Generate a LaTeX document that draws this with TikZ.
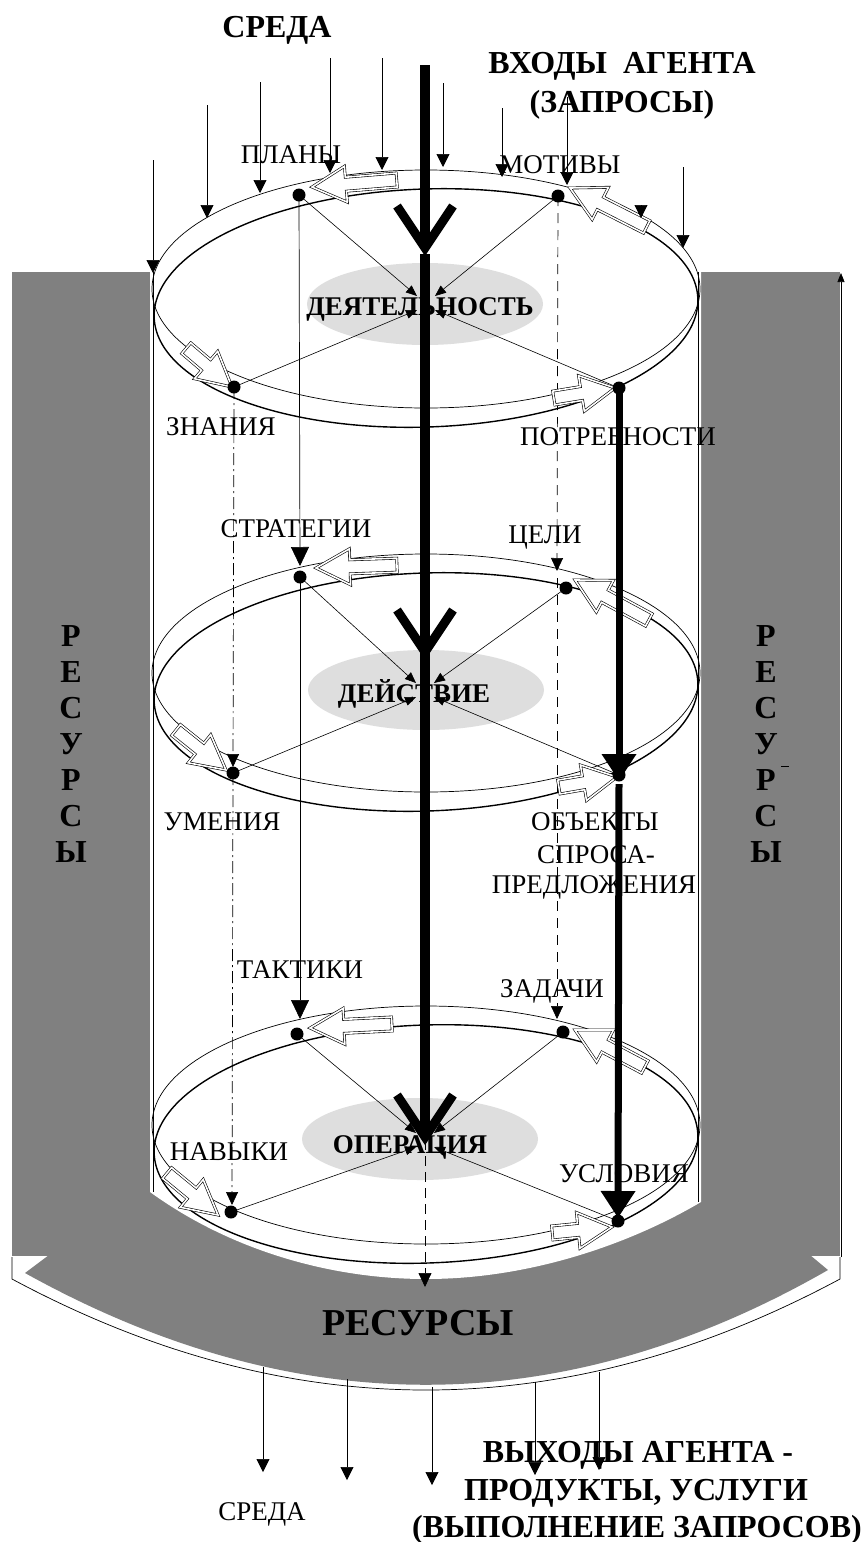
\documentclass[tikz,border=0pt]{standalone}
\usepackage{fontspec}
\setmainfont{Liberation Serif}
\usetikzlibrary{arrows.meta,calc}

\definecolor{resgray}{RGB}{128,128,128}
\definecolor{actgray}{RGB}{222,222,222}

\tikzset{
  lbl/.style={font=\fontsize{27}{30}\selectfont, inner sep=0pt, anchor=base},
  actlbl/.style={font=\bfseries\fontsize{27}{30}\selectfont, inner sep=0pt, anchor=base},
  heading/.style={font=\bfseries\fontsize{32}{38}\selectfont, inner sep=0pt, anchor=base},
  sideletter/.style={font=\bfseries\fontsize{32}{34}\selectfont, inner sep=0pt, anchor=base},
  ringA/.style={line width=0.7pt},
  ringB/.style={line width=1.4pt},
  envarrow/.style={line width=0.7pt, -{Triangle[width=13pt,length=13pt]}},
  tohub/.style={line width=0.6pt, -{Triangle[width=9pt,length=11pt]}},
  downline/.style={line width=0.7pt, -{Triangle[width=18pt,length=19pt]}},
  dashline/.style={line width=0.7pt, dash pattern=on 10pt off 7pt, -{Triangle[width=12pt,length=13pt]}},
  dotdashline/.style={line width=0.7pt, dash pattern=on 12pt off 4pt on 2pt off 4pt, -{Triangle[width=12pt,length=13pt]}},
  hollow/.style={draw, double, double distance=1.6pt, line width=0.6pt, fill=white, line join=miter},
  mainflow/.style={line width=10pt},
  chevron/.style={line width=9pt},
  needflow/.style={line width=7pt, -{Triangle[width=33pt,length=27pt]}},
}

\begin{document}
\begin{tikzpicture}[x=1pt, y=-1pt]
  \useasboundingbox (0,0) rectangle (865,1542);

  % Plate under the resources band
  \fill[white] (12,1250) -- (12,1279) .. controls (288,1427) and (564,1427) .. (840,1279) -- (840,1250) -- cycle;
  \draw[line width=0.7pt] (12,1257) -- (12,1279) .. controls (288,1427) and (564,1427) .. (840,1279) -- (840,1257);

  % Resources on the sides and below
  \fill[resgray] (12,272) rectangle (840,1256);
  \fill[resgray] (25,1273) -- (49,1255) -- (810,1255) -- (828,1270) .. controls (563,1422) and (295,1423) .. (25,1273) -- cycle;

  % Cylinder body
  \fill[white] (150,272) -- (150,1192) .. controls (230,1250) and (330,1279) .. (426,1279)
    .. controls (530,1279) and (630,1244) .. (701,1202) -- (701,272) -- cycle;
  \draw[line width=0.6pt] (153,272) -- (153,1192);
  \draw[line width=0.6pt] (698,272) -- (698,1202);
  \draw[line width=0.6pt, -{Triangle[width=7pt,length=9pt]}] (841,1257) -- (841,273);

  % Levels in the middle of the rings
  \fill[actgray] (425,304) ellipse [x radius=118, y radius=41];
  \fill[actgray] (426,690) ellipse [x radius=118, y radius=40];
  \fill[actgray] (420,1139) ellipse [x radius=118, y radius=41];

  % The three rings
  \foreach \cy in {289, 673, 1125} {
    \draw[ringA] (426,\cy) ellipse [x radius=274, y radius=119];
    \draw[ringB, rotate around={2:(426,\cy+19)}] (426,\cy+19) ellipse [x radius=272, y radius=119];
  }

  % Labels
  \node[lbl] (plansl) at (291,163) {ПЛАНЫ};
  \node[lbl] (motivesl) at (560,173) {МОТИВЫ};
  \node[lbl] (knowl) at (221,435) {ЗНАНИЯ};
  \node[lbl] (needsl) at (618,445) {ПОТРЕБНОСТИ};
  \node[lbl] (stratl) at (296,537) {СТРАТЕГИИ};
  \node[lbl] (goalsl) at (545,543) {ЦЕЛИ};
  \node[lbl] (skillsl) at (222,830) {УМЕНИЯ};
  \node[lbl] (objl1) at (595,830) {ОБЪЕКТЫ};
  \node[lbl] (objl2) at (596,863) {СПРОСА-};
  \node[lbl] (objl3) at (594,893) {ПРЕДЛОЖЕНИЯ};
  \node[lbl] (tactl) at (300,978) {ТАКТИКИ};
  \node[lbl] (tasksl) at (552,997) {ЗАДАЧИ};
  \node[lbl] (habitsl) at (229,1160) {НАВЫКИ};
  \node[lbl] (condl) at (624,1182) {УСЛОВИЯ};

  \node[actlbl] (act1) at (420,315) {ДЕЯТЕЛЬНОСТЬ};
  \node[actlbl] (act2) at (414,702) {ДЕЙСТВИЕ};
  \node[actlbl] (act3) at (410,1153) {ОПЕРАЦИЯ};

  % Points on the rings
  \coordinate (plans) at (299,195);   \coordinate (motives) at (558,196);
  \coordinate (know) at (234,387);    \coordinate (needs) at (619,388);
  \coordinate (strat) at (300,577);   \coordinate (goals) at (566,588);
  \coordinate (skills) at (233,773);  \coordinate (objects) at (619,775);
  \coordinate (tact) at (297,1034);   \coordinate (tasks) at (563,1032);
  \coordinate (habits) at (231,1212); \coordinate (cond) at (618,1221);
  \coordinate (hub1) at (426,303);
  \coordinate (hub2) at (425,690);
  \coordinate (hub3) at (425,1140);

  % Links to the centre of each ring
  \foreach \a/\b/\c/\d/\h in {plans/motives/know/needs/hub1, strat/goals/skills/objects/hub2, tact/tasks/habits/cond/hub3} {
    \draw[tohub] (\a) -- ($(\h)+(-9,-7)$);
    \draw[tohub] (\b) -- ($(\h)+(9,-7)$);
    \draw[tohub] (\c) -- ($(\h)+(-9,7)$);
    \draw[tohub] (\d) -- ($(\h)+(9,7)$);
  }

  % Links between the levels
  \coordinate (stratin) at (300,566);
  \coordinate (tactin) at (300,1019);
  \draw[downline] (plans) -- (stratin);
  \draw[downline] (strat) -- (tactin);

  \coordinate (goalsin) at (557,571);
  \coordinate (goalsout) at (557,578);
  \coordinate (tasksin) at (557,1019);
  \draw[dashline] (motives) -- (goalsin);
  \draw[dashline] (goalsout) -- (tasksin);

  \coordinate (skillsin) at (233,767);
  \coordinate (habitsin) at (232,1205);
  \draw[dotdashline] (know) -- (skillsin);
  \draw[dotdashline] (skills) -- (habitsin);

  \coordinate (resin) at (425,1287);
  \draw[line width=0.7pt, dash pattern=on 10pt off 6pt, -{Triangle[width=13pt,length=14pt]}] (hub3) -- (resin);

  % Hollow arrows round the rings (tip x / tip y / angle / length)
  \foreach \tx/\ty/\a/\l in {312/187/184.7/85, 570/188/153.1/86, 232/387/-40.3/60, 615/388/9.3/62,
                             316/568/182/81, 575/580/151.6/84, 226/770/-38.7/64, 617/777/9.8/59,
                             310/1028/182.8/82, 575/1030/152.1/79, 218/1215/-39.5/66, 612/1227/5.7/60} {
    \draw[hollow, shift={(\tx,\ty)}, rotate=\a] (0,0) -- (-34,-18) -- (-34,-7) -- (-\l,-7) -- (-\l,7) -- (-34,7) -- (-34,18) -- cycle;
  }

  % Dots
  \foreach \p in {plans,motives,know,needs,strat,goals,skills,objects,tact,tasks,habits,cond}
    \fill (\p) circle [radius=6.5];

  % Main flow of requests
  \coordinate (topin) at (425,65);
  \coordinate (restart) at (425,254);
  \coordinate (chev1) at (425,248);
  \coordinate (chev2) at (425,652);
  \coordinate (chev3) at (425,1137);
  \draw[mainflow] (topin) -- (chev1);
  \draw[mainflow] (restart) -- (chev3);
  \foreach \c in {chev1,chev2,chev3}
    \draw[chevron] (\c) ++(-28,-42) -- (\c) -- ++(28,-42);

  % Needs to conditions
  \coordinate (objin) at (619,781);
  \coordinate (objout) at (619,784);
  \coordinate (condin) at (618,1218);
  \draw[needflow] (needs) -- (objin);
  \draw[needflow] (objout) -- (condin);

  % Inputs from the environment
  \foreach \x/\ya/\yb in {153/160/273, 207/105/218, 260/82/193, 330/58/173, 382/58/170,
                          443/83/167, 502/108/177, 567/97/185, 641/205/218, 683/167/248}
    \draw[envarrow] (\x,\ya) -- (\x,\yb);

  % Outputs to the environment
  \foreach \x/\ya/\yb in {263/1367/1472, 347/1379/1480, 432/1387/1485, 535/1382/1475, 599/1372/1470}
    \draw[envarrow] (\x,\ya) -- (\x,\yb);

  % Resources
  \foreach \ch [count=\i] in {Р,Е,С,У,Р,С,Ы} {
    \node[sideletter] (resl\i) at (71,610+36*\i) {\ch};
    \node[sideletter] (resr\i) at (766,610+36*\i) {\ch};
  }
  \draw[line width=0.6pt] (781,766) -- (789,766);
  \node[font=\bfseries\fontsize{38}{40}\selectfont, inner sep=0pt, anchor=base] (resbottom) at (418,1335) {РЕСУРСЫ};

  % Headings
  \node[heading] (envtop) at (277,37) {СРЕДА};
  \node[heading] (inputs1) at (622,73) {ВХОДЫ\ \ АГЕНТА};
  \node[heading] (inputs2) at (622,112) {(ЗАПРОСЫ)};
  \node[lbl] (envbot) at (262,1520) {СРЕДА};
  \node[heading] (outputs1) at (638,1462) {ВЫХОДЫ АГЕНТА -};
  \node[heading] (outputs2) at (636,1500) {ПРОДУКТЫ, УСЛУГИ};
  \node[heading] (outputs3) at (637,1537) {(ВЫПОЛНЕНИЕ ЗАПРОСОВ)};
\end{tikzpicture}
\end{document}
